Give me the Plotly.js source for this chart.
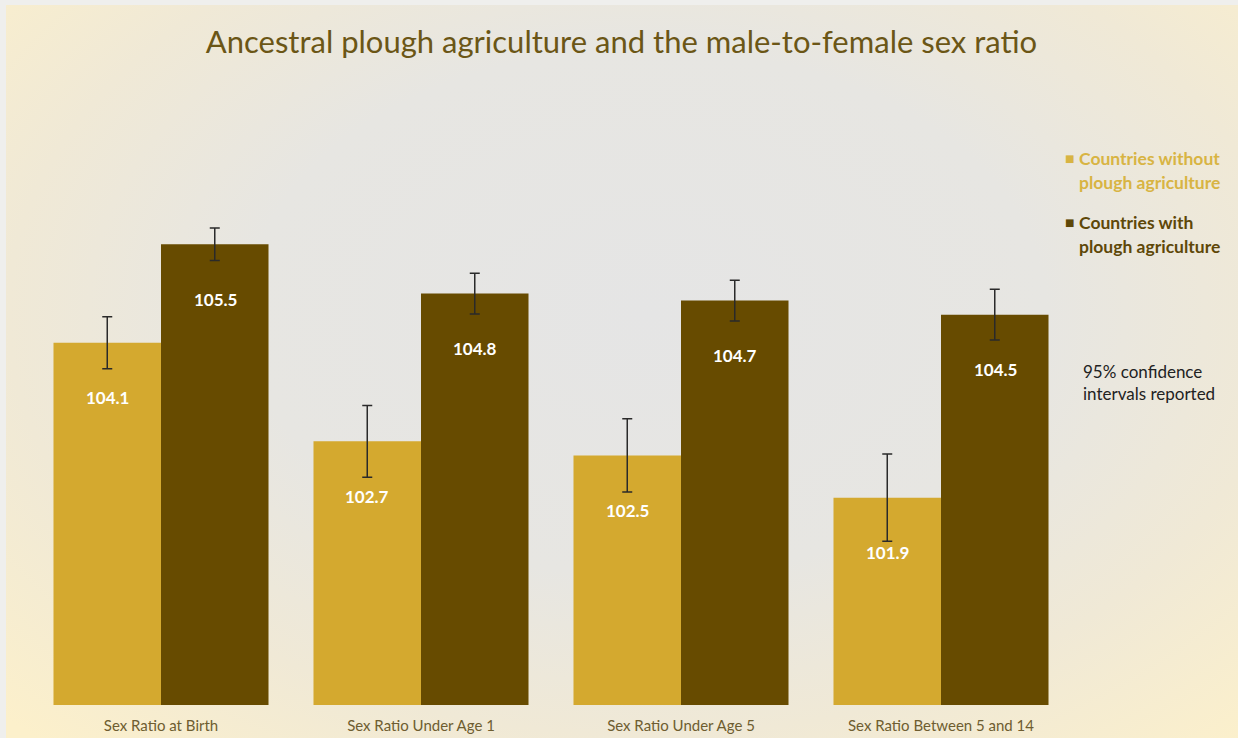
<!DOCTYPE html>
<html>
<head>
<meta charset="utf-8">
<script src="https://cdn.plot.ly/plotly-3.0.1.min.js"></script>
<style>
  html, body { margin:0; padding:0; width:1238px; height:738px; overflow:hidden; background:#efefed; }
  #bg {
    position:absolute; left:6px; top:5px; width:1232px; height:733px;
    background: radial-gradient(ellipse 72% 80% at 52% 42%, #e5e5e5 0%, #e7e6e2 45%, #f0e9d6 72%, #fcf0cb 100%);
  }
  #chart { position:absolute; left:0; top:0; width:1238px; height:738px; }
</style>
</head>
<body>
<div id="bg"></div>
<div id="chart"></div>
<script>
const categories = ["Sex Ratio at Birth", "Sex Ratio Under Age 1", "Sex Ratio Under Age 5", "Sex Ratio Between 5 and 14"];
const withoutPlough = [104.1, 102.7, 102.5, 101.9];
const withPlough = [105.5, 104.8, 104.7, 104.5];
const withoutCI = [0.37, 0.51, 0.52, 0.62];
const withCI = [0.23, 0.29, 0.29, 0.36];
const seriesNames = ["Countries without plough agriculture", "Countries with plough agriculture"];

const FONT = "Lato, 'Open Sans', sans-serif";
const lightColor = "#d4a92f";
const darkColor = "#674b00";

const traces = [
  {
    type: "bar", x: categories, y: withoutPlough, name: seriesNames[0],
    marker: { color: lightColor, line: { width: 0 } },
    error_y: { type: "data", array: withoutCI, visible: true, color: "#2a2a2a", thickness: 1.5, width: 5 },
    hoverinfo: "none"
  },
  {
    type: "bar", x: categories, y: withPlough, name: seriesNames[1],
    marker: { color: darkColor, line: { width: 0 } },
    error_y: { type: "data", array: withCI, visible: true, color: "#2a2a2a", thickness: 1.5, width: 5 },
    hoverinfo: "none"
  }
];

const annotations = [];
categories.forEach((c, i) => {
  annotations.push({ x: c, y: withoutPlough[i], xref: "x", yref: "y", xshift: -54, yshift: -55,
    text: "<b>" + withoutPlough[i].toFixed(1) + "</b>", showarrow: false,
    font: { family: FONT, size: 17, color: "#ffffff" } });
  annotations.push({ x: c, y: withPlough[i], xref: "x", yref: "y", xshift: 54, yshift: -55,
    text: "<b>" + withPlough[i].toFixed(1) + "</b>", showarrow: false,
    font: { family: FONT, size: 17, color: "#ffffff" } });
});

function px2paperX(px) { return (px - 31) / (1071 - 31); }
function px2paperY(py) { return (705 - py) / (705 - 100); }
const legendItems = [
  { lines: ["Countries without", "plough agriculture"], color: "#d8b443", y: 158 },
  { lines: ["Countries with", "plough agriculture"], color: "#5e4708", y: 222 }
];
legendItems.forEach(it => {
  annotations.push({ xref: "paper", yref: "paper", x: px2paperX(1069), y: px2paperY(it.y),
    xanchor: "center", yanchor: "middle", showarrow: false, text: "■",
    font: { family: "DejaVu Sans", size: 10, color: it.color } });
  it.lines.forEach((ln, k) => {
    annotations.push({ xref: "paper", yref: "paper", x: px2paperX(1077), y: px2paperY(it.y + k * 24),
      xanchor: "left", yanchor: "middle", showarrow: false, text: "<b>" + ln + "</b>",
      font: { family: FONT, size: 17.5, color: it.color } });
  });
});
["95% confidence", "intervals reported"].forEach((ln, k) => {
  annotations.push({ xref: "paper", yref: "paper", x: px2paperX(1081), y: px2paperY(371 + k * 22),
    xanchor: "left", yanchor: "middle", showarrow: false, text: ln,
    font: { family: FONT, size: 17, color: "#222222" } });
});

const layout = {
  width: 1238, height: 738,
  paper_bgcolor: "rgba(0,0,0,0)", plot_bgcolor: "rgba(0,0,0,0)",
  margin: { l: 31, r: 167, t: 100, b: 33 },
  title: { text: "Ancestral plough agriculture and the male-to-female sex ratio",
    font: { family: FONT, size: 31, color: "#6b5616" }, x: 0.502, xref: "container", xanchor: "center", y: 0.943, yanchor: "middle" },
  barmode: "group", bargap: 0.173, bargroupgap: 0,
  showlegend: false,
  xaxis: { type: "category", showgrid: false, zeroline: false, showline: false, ticks: "",
    ticklabelstandoff: 10,
    tickfont: { family: FONT, size: 15, color: "#6e5d30" }, fixedrange: true },
  yaxis: { range: [98.954, 107.55], visible: false, showgrid: false, zeroline: false, fixedrange: true },
  annotations: annotations
};

Plotly.newPlot("chart", traces, layout, { staticPlot: true, displayModeBar: false });
</script>
</body>
</html>
